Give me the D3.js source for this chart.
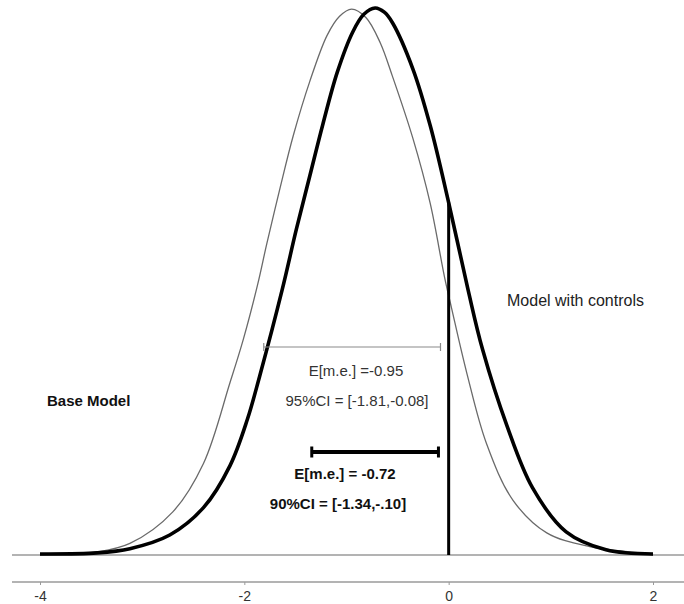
<!DOCTYPE html>
<html>
<head>
<meta charset="utf-8">
<script src="https://cdn.jsdelivr.net/npm/d3@7"></script>
<style>
  html, body { margin: 0; padding: 0; background: #fff; }
  svg { display: block; font-family: "Liberation Sans", Arial, sans-serif; }
</style>
</head>
<body>
<svg id="chart" width="684" height="604"></svg>
<script>
// Posterior densities of the marginal effect, read at points along x
const baseX = [-4.00, -3.44, -3.12, -2.70, -2.40, -2.14, -2.01, -1.87, -1.78, -1.65, -1.52, -1.36, -1.19, -1.07, -0.95,
               -0.81, -0.67, -0.55, -0.35, -0.18, -0.04, 0.03, 0.18, 0.37, 0.63, 0.96, 1.38, 1.87, 2.00];
const baseY = [0.000, 0.003, 0.011, 0.041, 0.087, 0.164, 0.205, 0.257, 0.296, 0.349, 0.399, 0.450, 0.494, 0.512, 0.519,
               0.511, 0.487, 0.455, 0.396, 0.334, 0.264, 0.234, 0.172, 0.106, 0.052, 0.021, 0.008, 0.002, 0.000];

const ctrlX = [-4.00, -3.44, -3.12, -2.73, -2.40, -2.14, -1.97, -1.85, -1.63, -1.49, -1.36, -1.23, -1.09, -0.94, -0.83,
               -0.72, -0.63, -0.55, -0.35, -0.18, 0.00, 0.19, 0.33, 0.57, 0.82, 1.15, 1.54, 2.00];
const ctrlY = [0.001, 0.002, 0.006, 0.019, 0.045, 0.085, 0.129, 0.170, 0.252, 0.310, 0.360, 0.410, 0.459, 0.497, 0.514,
               0.520, 0.516, 0.506, 0.462, 0.408, 0.335, 0.252, 0.196, 0.123, 0.064, 0.022, 0.005, 0.001];

// Interval summaries
const baseMean = -0.95, baseCI = [-1.81, -0.08];
const ctrlMean = -0.72, ctrlCI = [-1.34, -0.10];

const xTicks = [-4, -2, 0, 2];
const zeroLine = 0;

const svg = d3.select("#chart");

const x = d3.scaleLinear().domain([-4, 2]).range([40, 653]);
const y = d3.scaleLinear().domain([0, 0.52]).range([555, 8]);

// zero-density baseline across the panel
svg.append("line")
  .attr("x1", 12).attr("x2", 684)
  .attr("y1", y(0)).attr("y2", y(0))
  .attr("stroke", "#9a9a9a").attr("stroke-width", 1.5);

// bottom axis
const axisY = 582;
svg.append("line")
  .attr("x1", 12).attr("x2", 684)
  .attr("y1", axisY).attr("y2", axisY)
  .attr("stroke", "#9a9a9a").attr("stroke-width", 1.5);

const axis = svg.append("g")
  .attr("transform", `translate(0,${axisY})`)
  .call(d3.axisBottom(x).tickValues(xTicks).tickSize(3).tickSizeOuter(0).tickFormat(d3.format("d")));
axis.select(".domain").remove();
axis.selectAll(".tick line").attr("stroke", "#9a9a9a").attr("stroke-width", 1);
axis.selectAll(".tick text")
  .attr("fill", "#333").attr("font-size", 14)
  .attr("font-family", "'Liberation Sans', Arial, sans-serif")
  .attr("dy", "0.9em").text(d => d < 0 ? "-" + Math.abs(d) : d);

const line = d3.line()
  .x(d => x(d[0])).y(d => y(d[1]))
  .curve(d3.curveCatmullRom.alpha(0.5));

// base model density (thin)
svg.append("path")
  .datum(d3.zip(baseX, baseY))
  .attr("d", line)
  .attr("fill", "none").attr("stroke", "#6a6a6a").attr("stroke-width", 1.3);

// model with controls density (thick)
svg.append("path")
  .datum(d3.zip(ctrlX, ctrlY))
  .attr("d", line)
  .attr("fill", "none").attr("stroke", "#000").attr("stroke-width", 3.6)
  .attr("stroke-linejoin", "round");

// vertical reference at zero, up to the thick curve
const ctrlAtZero = ctrlY[ctrlX.indexOf(zeroLine)];
svg.append("line")
  .attr("x1", x(zeroLine)).attr("x2", x(zeroLine))
  .attr("y1", y(0)).attr("y2", y(ctrlAtZero))
  .attr("stroke", "#000").attr("stroke-width", 3);

// 95% interval, base model
const ciBaseY = 347;
svg.append("line")
  .attr("x1", x(baseCI[0])).attr("x2", x(baseCI[1]))
  .attr("y1", ciBaseY).attr("y2", ciBaseY)
  .attr("stroke", "#8a8a8a").attr("stroke-width", 1.2);
baseCI.forEach(v => {
  svg.append("line")
    .attr("x1", x(v)).attr("x2", x(v))
    .attr("y1", ciBaseY - 4).attr("y2", ciBaseY + 4)
    .attr("stroke", "#8a8a8a").attr("stroke-width", 1.2);
});

// 90% interval, model with controls
const ciCtrlY = 452;
svg.append("line")
  .attr("x1", x(ctrlCI[0])).attr("x2", x(ctrlCI[1]))
  .attr("y1", ciCtrlY).attr("y2", ciCtrlY)
  .attr("stroke", "#000").attr("stroke-width", 4);
ctrlCI.forEach(v => {
  svg.append("line")
    .attr("x1", x(v)).attr("x2", x(v))
    .attr("y1", ciCtrlY - 5.5).attr("y2", ciCtrlY + 5.5)
    .attr("stroke", "#000").attr("stroke-width", 3);
});

const fmt = v => v.toFixed(2);
const fmtShort = v => (v < 0 ? "-" : "") + Math.abs(v).toFixed(2).replace(/^0/, "");

// annotations
const txt = (str, xPos, yPos, opts = {}) => svg.append("text")
  .attr("x", xPos).attr("y", yPos)
  .attr("text-anchor", opts.anchor || "middle")
  .attr("dominant-baseline", "central")
  .attr("font-size", opts.size || 15)
  .attr("font-weight", opts.bold ? "bold" : "normal")
  .attr("fill", opts.fill || "#333")
  .text(str);

txt(`E[m.e.] =${fmt(baseMean)}`, 356, 370);
txt(`95%CI = [${fmt(baseCI[0])},${fmt(baseCI[1])}]`, 357, 400);
txt(`E[m.e.] = ${fmt(ctrlMean)}`, 345, 473, { bold: true, fill: "#111" });
txt(`90%CI = [${fmt(ctrlCI[0])},${fmtShort(ctrlCI[1])}]`, 338, 503, { bold: true, fill: "#111" });

txt("Base Model", 47, 400, { anchor: "start", bold: true, size: 15, fill: "#111" });
txt("Model with controls", 507, 300, { anchor: "start", size: 16, fill: "#222" });
</script>
</body>
</html>
